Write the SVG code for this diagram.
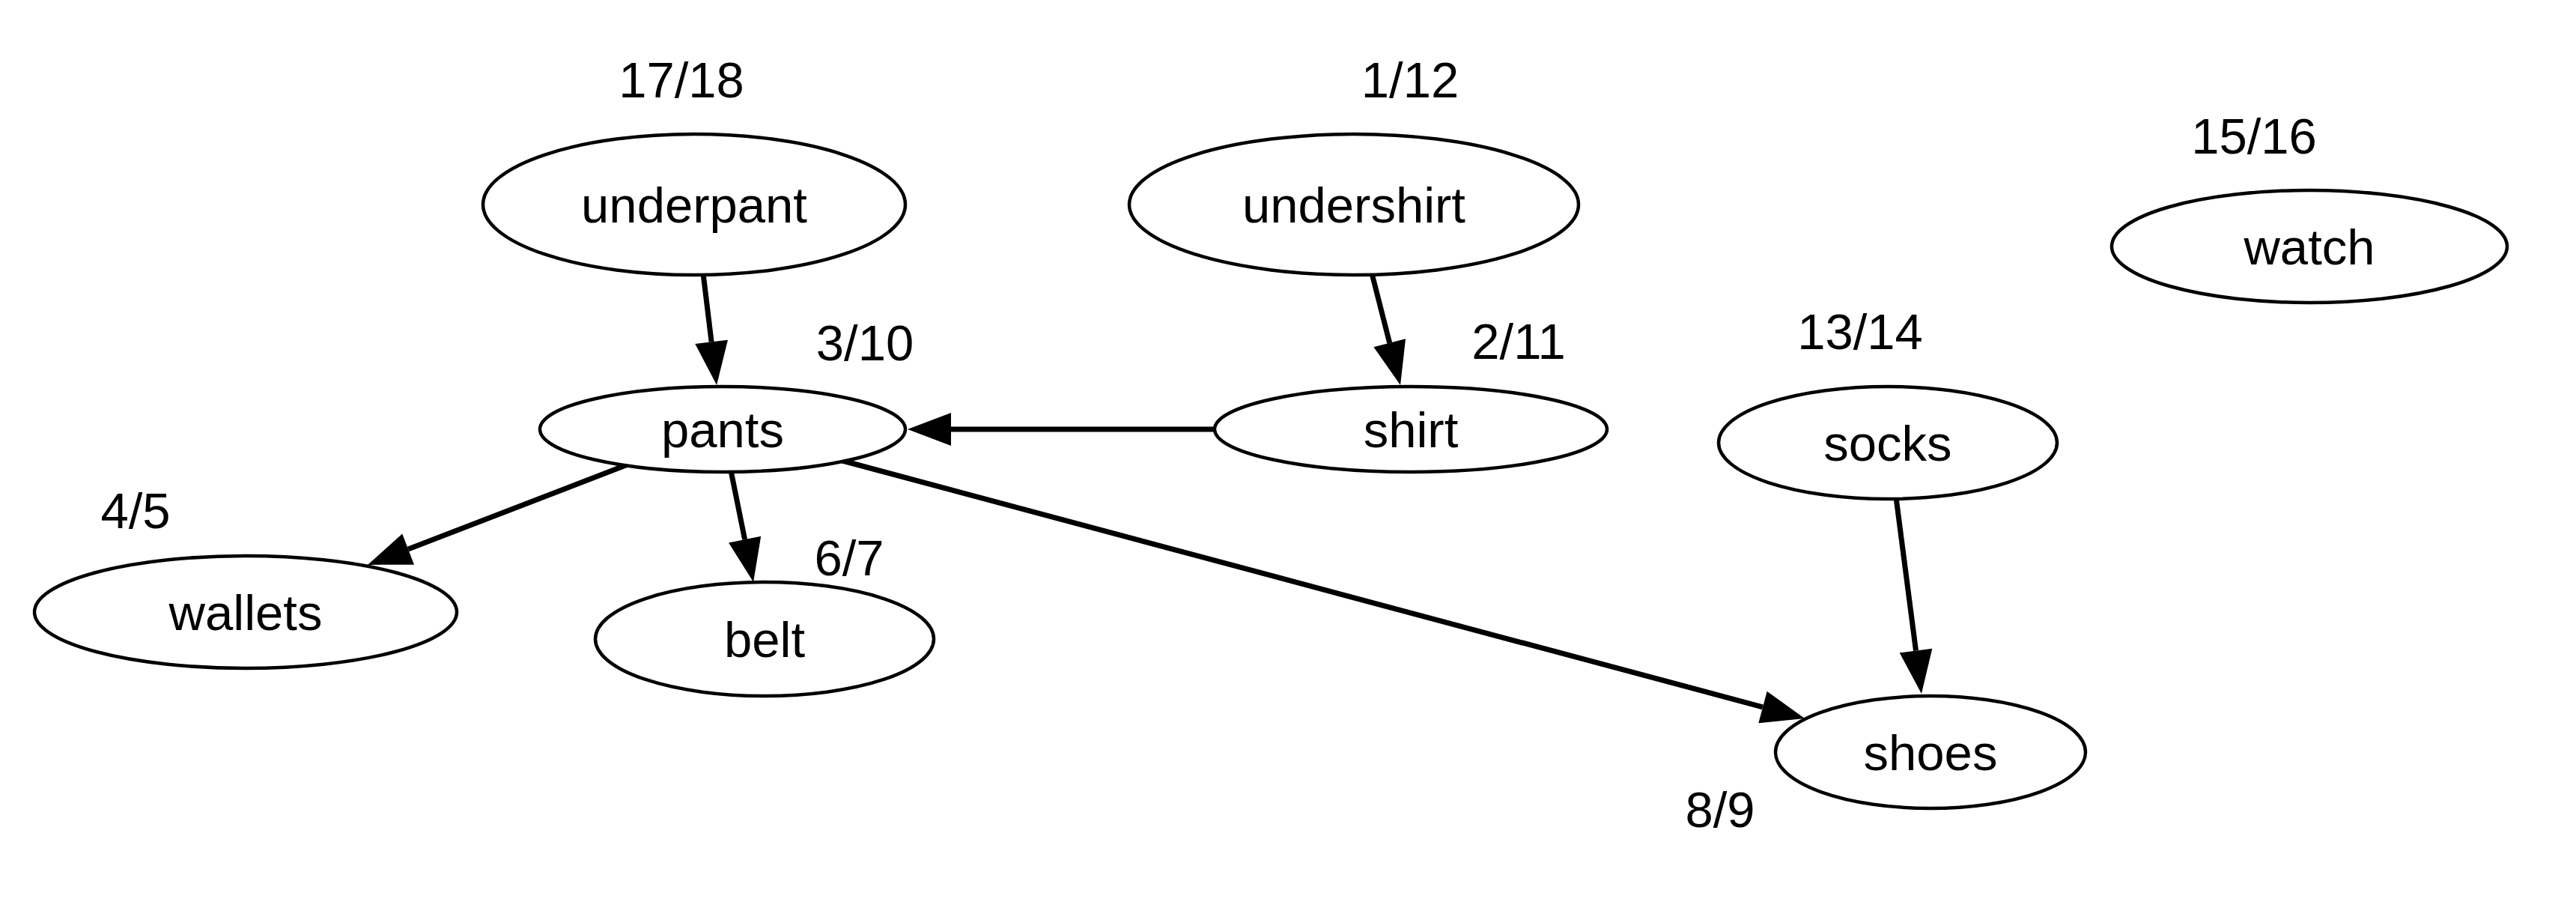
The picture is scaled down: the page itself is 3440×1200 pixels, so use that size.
<svg xmlns="http://www.w3.org/2000/svg" width="3440" height="1200" viewBox="0 0 3440 1200">
<defs>
<style>
.node ellipse{fill:#fff;stroke:#000;stroke-width:4.5}
.node text{font-family:"Liberation Sans",Arial,sans-serif;font-size:67px;text-anchor:middle;fill:#000}
.lbl{font-family:"Liberation Sans",Arial,sans-serif;font-size:67px;text-anchor:middle;fill:#000}
.edge{fill:none;stroke:#000;stroke-width:7;marker-end:url(#arrow)}
</style>
<marker id="arrow" markerUnits="userSpaceOnUse" markerWidth="62" markerHeight="46" refX="0" refY="22" orient="auto" overflow="visible">
<path d="M0,0 L58,22 L0,44 Z" fill="#000"/>
</marker>
</defs>
<rect width="3440" height="1200" fill="#fff"/>
<g id="connectors">
<path class="edge" d="M939,365 L950.1,456.4"/>
<path class="edge" d="M1832,365 L1855.7,457.8"/>
<path class="edge" d="M1622,573 L1270,573"/>
<path class="edge" d="M841,619 L545.1,733.1"/>
<path class="edge" d="M976,628 L994.6,720.1"/>
<path class="edge" d="M1125,615 L2354,943.9"/>
<path class="edge" d="M2532,664 L2558.5,868.5"/>
</g>
<g id="node-underpant" class="node"><ellipse cx="927" cy="273" rx="282" ry="94"/><text x="927" y="297">underpant</text></g>
<g id="node-undershirt" class="node"><ellipse cx="1808" cy="273" rx="300" ry="94"/><text x="1808" y="297">undershirt</text></g>
<g id="node-watch" class="node"><ellipse cx="3084" cy="329" rx="264" ry="75"/><text x="3084" y="353">watch</text></g>
<g id="node-pants" class="node"><ellipse cx="965" cy="573" rx="244" ry="57"/><text x="965" y="597">pants</text></g>
<g id="node-shirt" class="node"><ellipse cx="1884" cy="573" rx="262" ry="57"/><text x="1884" y="597">shirt</text></g>
<g id="node-socks" class="node"><ellipse cx="2521" cy="591" rx="226" ry="75"/><text x="2521" y="615">socks</text></g>
<g id="node-wallets" class="node"><ellipse cx="328" cy="817" rx="282" ry="75"/><text x="328" y="841">wallets</text></g>
<g id="node-belt" class="node"><ellipse cx="1021" cy="853" rx="226" ry="76"/><text x="1021" y="877">belt</text></g>
<g id="node-shoes" class="node"><ellipse cx="2578" cy="1004" rx="207" ry="75"/><text x="2578" y="1028">shoes</text></g>
<g id="labels">
<text class="lbl" x="910" y="130">17/18</text>
<text class="lbl" x="1883" y="130">1/12</text>
<text class="lbl" x="3010" y="205">15/16</text>
<text class="lbl" x="1155" y="481">3/10</text>
<text class="lbl" x="2028" y="479">2/11</text>
<text class="lbl" x="2484" y="466">13/14</text>
<text class="lbl" x="181" y="705">4/5</text>
<text class="lbl" x="1134" y="768">6/7</text>
<text class="lbl" x="2297" y="1104">8/9</text>
</g>
</svg>
